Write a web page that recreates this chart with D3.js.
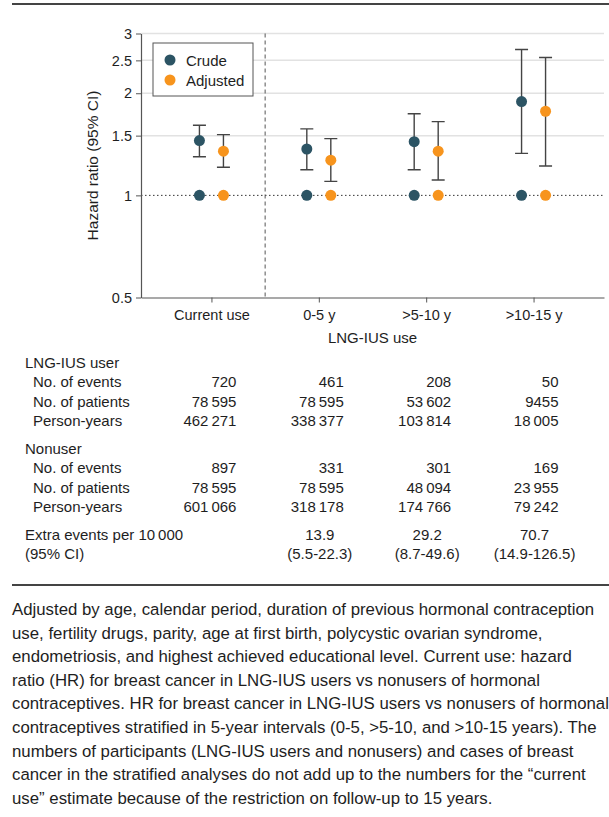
<!DOCTYPE html>
<html>
<head>
<meta charset="utf-8">
<script src="https://cdnjs.cloudflare.com/ajax/libs/d3/7.8.5/d3.min.js"></script>
<style>
  body { margin: 0; background: #fff; }
  svg { display: block; font-family: "Liberation Sans", Arial, sans-serif; }
</style>
</head>
<body>
<script>
// hazard ratio chart + table underneath
let w = 609;
let h = 817;

let categories = ["Current use", "0-5 y", ">5-10 y", ">10-15 y"];

// hazard ratios (log scale)
let crudeHR = [1.45, 1.37, 1.44, 1.89];
let crudeLow = [1.30, 1.19, 1.19, 1.33];
let crudeHigh = [1.61, 1.57, 1.74, 2.69];
let adjHR = [1.35, 1.27, 1.35, 1.77];
let adjLow = [1.21, 1.10, 1.11, 1.22];
let adjHigh = [1.51, 1.47, 1.65, 2.55];
let refHR = [1, 1, 1, 1];

let yTicks = [0.5, 1, 1.5, 2, 2.5, 3];
let gridTicks = [1.5, 2, 2.5, 3];

// table (thin space as thousands separator)
let userEvents = ["720", "461", "208", "50"];
let userPatients = ["78\u2009595", "78\u2009595", "53\u2009602", "9455"];
let userPersonYears = ["462\u2009271", "338\u2009377", "103\u2009814", "18\u2009005"];
let nonEvents = ["897", "331", "301", "169"];
let nonPatients = ["78\u2009595", "78\u2009595", "48\u2009094", "23\u2009955"];
let nonPersonYears = ["601\u2009066", "318\u2009178", "174\u2009766", "79\u2009242"];
let extraEvents = ["", "13.9", "29.2", "70.7"];
let extraCI = ["", "(5.5-22.3)", "(8.7-49.6)", "(14.9-126.5)"];

let captionLines = [
    "Adjusted by age, calendar period, duration of previous hormonal contraception",
    "use, fertility drugs, parity, age at first birth, polycystic ovarian syndrome,",
    "endometriosis, and highest achieved educational level. Current use: hazard",
    "ratio (HR) for breast cancer in LNG-IUS users vs nonusers of hormonal",
    "contraceptives. HR for breast cancer in LNG-IUS users vs nonusers of hormonal",
    "contraceptives stratified in 5-year intervals (0-5, >5-10, and >10-15 years). The",
    "numbers of participants (LNG-IUS users and nonusers) and cases of breast",
    "cancer in the stratified analyses do not add up to the numbers for the \u201ccurrent",
    "use\u201d estimate because of the restriction on follow-up to 15 years."
];

let crudeColor = "#2c5464";
let adjColor = "#f7941d";
let textColor = "#1e1e1e";

let svg = d3.select('body').append('svg')
    .attr('width', w)
    .attr('height', h);

// top rule
svg.append('line')
    .attr('x1', 12).attr('x2', w)
    .attr('y1', 4).attr('y2', 4)
    .attr('stroke', '#444').attr('stroke-width', 2);

let plotLeft = 141, plotRight = 604, plotTop = 33.5, plotBottom = 297.5;

let x = d3.scalePoint()
    .domain(categories)
    .range([plotLeft, plotRight])
    .padding(0.656);

let y = d3.scaleLog()
    .domain([0.5, 3])
    .range([plotBottom, plotTop]);

// gridlines
svg.selectAll('.grid')
    .data(gridTicks)
    .enter()
    .append('line')
    .attr('class', 'grid')
    .attr('x1', plotLeft).attr('x2', plotRight)
    .attr('y1', d => y(d)).attr('y2', d => y(d))
    .attr('stroke', '#e2e2e2')
    .attr('stroke-width', 1.5);

// reference line at HR = 1
svg.append('line')
    .attr('x1', plotLeft).attr('x2', plotRight)
    .attr('y1', y(1)).attr('y2', y(1))
    .attr('stroke', '#333')
    .attr('stroke-width', 1)
    .attr('stroke-dasharray', '1.5,2.5');

// divider between current use and the intervals
let divX = (x(categories[0]) + x(categories[1])) / 2;
svg.append('line')
    .attr('x1', divX).attr('x2', divX)
    .attr('y1', y(3)).attr('y2', y(0.5))
    .attr('stroke', '#555')
    .attr('stroke-dasharray', '4,3');

// axes
let yAxis = svg.append('g')
    .attr('transform', `translate(${plotLeft},0)`)
    .call(d3.axisLeft(y).tickValues(yTicks).tickFormat(d => d).tickSize(5).tickSizeOuter(0).tickPadding(4));

let xAxis = svg.append('g')
    .attr('transform', `translate(0,${plotBottom})`)
    .call(d3.axisBottom(x).tickSize(5).tickSizeOuter(0).tickPadding(7));

[yAxis, xAxis].forEach(g => {
    g.select('.domain').attr('stroke', '#555').attr('stroke-width', 1.2);
    g.selectAll('.tick line').attr('stroke', '#555');
    g.selectAll('.tick text')
        .attr('fill', textColor)
        .style('font-size', '14.5px')
        .style('font-family', '"Liberation Sans", Arial, sans-serif');
});

svg.append('text')
    .attr('transform', `translate(98,${(plotTop + plotBottom) / 2}) rotate(-90)`)
    .attr('text-anchor', 'middle')
    .attr('fill', textColor)
    .style('font-size', '15.5px')
    .text('Hazard ratio (95% CI)');

svg.append('text')
    .attr('x', (plotLeft + plotRight) / 2)
    .attr('y', 343)
    .attr('text-anchor', 'middle')
    .attr('fill', textColor)
    .style('font-size', '15px')
    .text('LNG-IUS use');

// points and error bars
let series = [
    { hr: crudeHR, lo: crudeLow, hi: crudeHigh, color: crudeColor, dx: -12 },
    { hr: adjHR, lo: adjLow, hi: adjHigh, color: adjColor, dx: 12 }
];
let cap = 6.5;

series.forEach(s => {
    let g = svg.append('g');
    let rows = categories.map((c, i) => ({ c: c, hr: s.hr[i], lo: s.lo[i], hi: s.hi[i], ref: refHR[i] }));

    g.selectAll('.ci')
        .data(rows)
        .enter()
        .append('path')
        .attr('d', d => {
            let cx = x(d.c) + s.dx;
            return `M${cx - cap},${y(d.hi)}H${cx + cap}M${cx},${y(d.hi)}V${y(d.lo)}M${cx - cap},${y(d.lo)}H${cx + cap}`;
        })
        .attr('fill', 'none')
        .attr('stroke', '#444')
        .attr('stroke-width', 1.4);

    g.selectAll('.ref')
        .data(rows)
        .enter()
        .append('circle')
        .attr('cx', d => x(d.c) + s.dx)
        .attr('cy', d => y(d.ref))
        .attr('r', 5.5)
        .attr('fill', s.color);

    g.selectAll('.pt')
        .data(rows)
        .enter()
        .append('circle')
        .attr('cx', d => x(d.c) + s.dx)
        .attr('cy', d => y(d.hr))
        .attr('r', 5.5)
        .attr('fill', s.color);
});

// legend
let legend = svg.append('g');
legend.append('rect')
    .attr('x', 153).attr('y', 43)
    .attr('width', 100).attr('height', 53)
    .attr('fill', '#fff')
    .attr('stroke', '#555');
[["Crude", crudeColor], ["Adjusted", adjColor]].forEach((d, i) => {
    legend.append('circle')
        .attr('cx', 170).attr('cy', 60 + i * 20)
        .attr('r', 5.5)
        .attr('fill', d[1]);
    legend.append('text')
        .attr('x', 186).attr('y', 65.5 + i * 20)
        .attr('fill', textColor)
        .style('font-size', '15px')
        .text(d[0]);
});

// table
let tableRows = [
    { label: "LNG-IUS user", y: 367.5, indent: false, values: null },
    { label: "No. of events", y: 387, indent: true, values: userEvents },
    { label: "No. of patients", y: 406.5, indent: true, values: userPatients },
    { label: "Person-years", y: 426, indent: true, values: userPersonYears },
    { label: "Nonuser", y: 453.5, indent: false, values: null },
    { label: "No. of events", y: 473, indent: true, values: nonEvents },
    { label: "No. of patients", y: 492.5, indent: true, values: nonPatients },
    { label: "Person-years", y: 512, indent: true, values: nonPersonYears },
    { label: "Extra events per 10\u2009000", y: 539.5, indent: false, values: extraEvents, center: true },
    { label: "(95% CI)", y: 559, indent: false, values: extraCI, center: true }
];

let table = svg.append('g')
    .attr('fill', textColor)
    .style('font-size', '15px');

tableRows.forEach(r => {
    table.append('text')
        .attr('x', r.indent ? 33 : 25)
        .attr('y', r.y)
        .text(r.label);
    if (!r.values) return;
    table.selectAll(null)
        .data(r.values)
        .enter()
        .append('text')
        .attr('x', (d, i) => r.center ? x(categories[i]) + 1 : x(categories[i]) + 25)
        .attr('y', r.y)
        .attr('text-anchor', r.center ? 'middle' : 'end')
        .text(d => d);
});

// caption
svg.append('line')
    .attr('x1', 12).attr('x2', w)
    .attr('y1', 585).attr('y2', 585)
    .attr('stroke', '#444').attr('stroke-width', 2);

svg.append('g')
    .attr('fill', textColor)
    .style('font-size', '16.8px')
    .selectAll('text')
    .data(captionLines)
    .enter()
    .append('text')
    .attr('x', 12)
    .attr('y', (d, i) => 615 + i * 23.6)
    .text(d => d);
</script>
</body>
</html>
